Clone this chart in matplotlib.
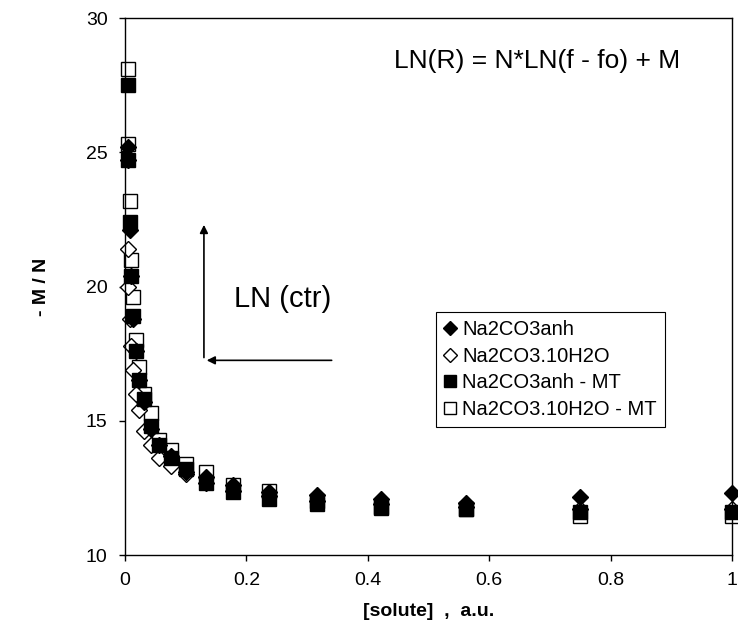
import matplotlib
matplotlib.use("Agg")
import matplotlib.pyplot as plt

plt.rcParams['font.family'] = ['Liberation Sans', 'DejaVu Sans']
plt.rcParams['xtick.direction'] = 'out'
plt.rcParams['ytick.direction'] = 'out'

# concentrations (a.u.)
conc = [0.0042, 0.0056, 0.0075, 0.01, 0.0134, 0.0178, 0.0237, 0.0316, 0.042,
        0.056, 0.075, 0.1, 0.133, 0.178, 0.237, 0.316, 0.422, 0.5625, 0.75, 1.0]

# -M/N for each series
anh = [25.2, 24.7, 22.1, 20.4, 18.8, 17.6, 16.5, 15.7, 14.7, 14.1,
       13.7, 13.1, 12.9, 12.6, 12.35, 12.25, 12.1, 11.95, 12.15, 12.3]
hyd = [21.4, 20.0, 18.8, 17.8, 16.9, 16.0, 15.4, 14.6, 14.1, 13.6,
       13.3, 13.0, 12.7, 12.4, 12.2, 12.0, 11.9, 11.8, 11.7, 11.7]
anh_mt = [27.5, 24.7, 22.4, 20.4, 18.9, 17.6, 16.5, 15.8, 14.8, 14.1,
          13.6, 13.2, 12.7, 12.35, 12.1, 11.9, 11.75, 11.7, 11.6, 11.6]
hyd_mt = [28.1, 25.3, 23.2, 21.0, 19.6, 18.0, 17.0, 16.0, 15.3, 14.3,
          13.9, 13.4, 13.1, 12.6, 12.4, 12.0, 11.8, 11.7, 11.45, 11.45]

fig = plt.figure(figsize=(7.38, 6.34), dpi=100)
ax = fig.add_axes([0.1694, 0.1246, 0.8225, 0.847])

ms = 10
ax.plot(conc, anh, 'D', color='k', markersize=ms * 0.85, label='Na2CO3anh', clip_on=False, zorder=4)
ax.plot(conc, hyd, 'D', mfc='white', mec='k', mew=1.0, markersize=ms * 0.85,
        label='Na2CO3.10H2O', clip_on=False, zorder=2)
ax.plot(conc, hyd_mt, 's', mfc='white', mec='k', mew=1.0, markersize=ms,
        label='Na2CO3.10H2O - MT', clip_on=False, zorder=1)
ax.plot(conc, anh_mt, 's', color='k', markersize=ms, label='Na2CO3anh - MT', clip_on=False, zorder=3)

ax.set_xlim(0, 1)
ax.set_ylim(10, 30)
ax.set_xticks([0, 0.2, 0.4, 0.6, 0.8, 1])
ax.set_xticklabels(['0', '0.2', '0.4', '0.6', '0.8', '1'])
ax.set_yticks([10, 15, 20, 25, 30])
ax.tick_params(labelsize=14, length=4.5, width=1, pad=8)
for sp in ax.spines.values():
    sp.set_linewidth(1.0)

ax.set_xlabel('[solute]  ,  a.u.', fontsize=14, fontweight='bold', labelpad=10)
ax.set_ylabel('- M / N', fontsize=14, fontweight='bold', labelpad=26)

ax.text(0.443, 28.4, 'LN(R) = N*LN(f - fo) + M', fontsize=19, va='center')
ax.text(0.18, 19.55, 'LN (ctr)', fontsize=21, va='center')

ax.annotate('', xy=(0.13, 22.4), xytext=(0.13, 17.25),
            arrowprops=dict(arrowstyle='-|>', color='k', lw=1.2, mutation_scale=12))
ax.annotate('', xy=(0.13, 17.25), xytext=(0.345, 17.25),
            arrowprops=dict(arrowstyle='-|>', color='k', lw=1.2, mutation_scale=12))

h, l = ax.get_legend_handles_labels()
order = [0, 1, 3, 2]
leg = ax.legend([h[i] for i in order], [l[i] for i in order],
                loc='upper left', bbox_to_anchor=(0.512, 0.4525),
                fontsize=14.5, markerscale=0.85, handlelength=0.6, handletextpad=0.3,
                borderpad=0.4, labelspacing=0.38, borderaxespad=0, fancybox=False,
                framealpha=1, edgecolor='k')
leg.get_frame().set_linewidth(0.8)

fig.savefig('out.png', dpi=100)
